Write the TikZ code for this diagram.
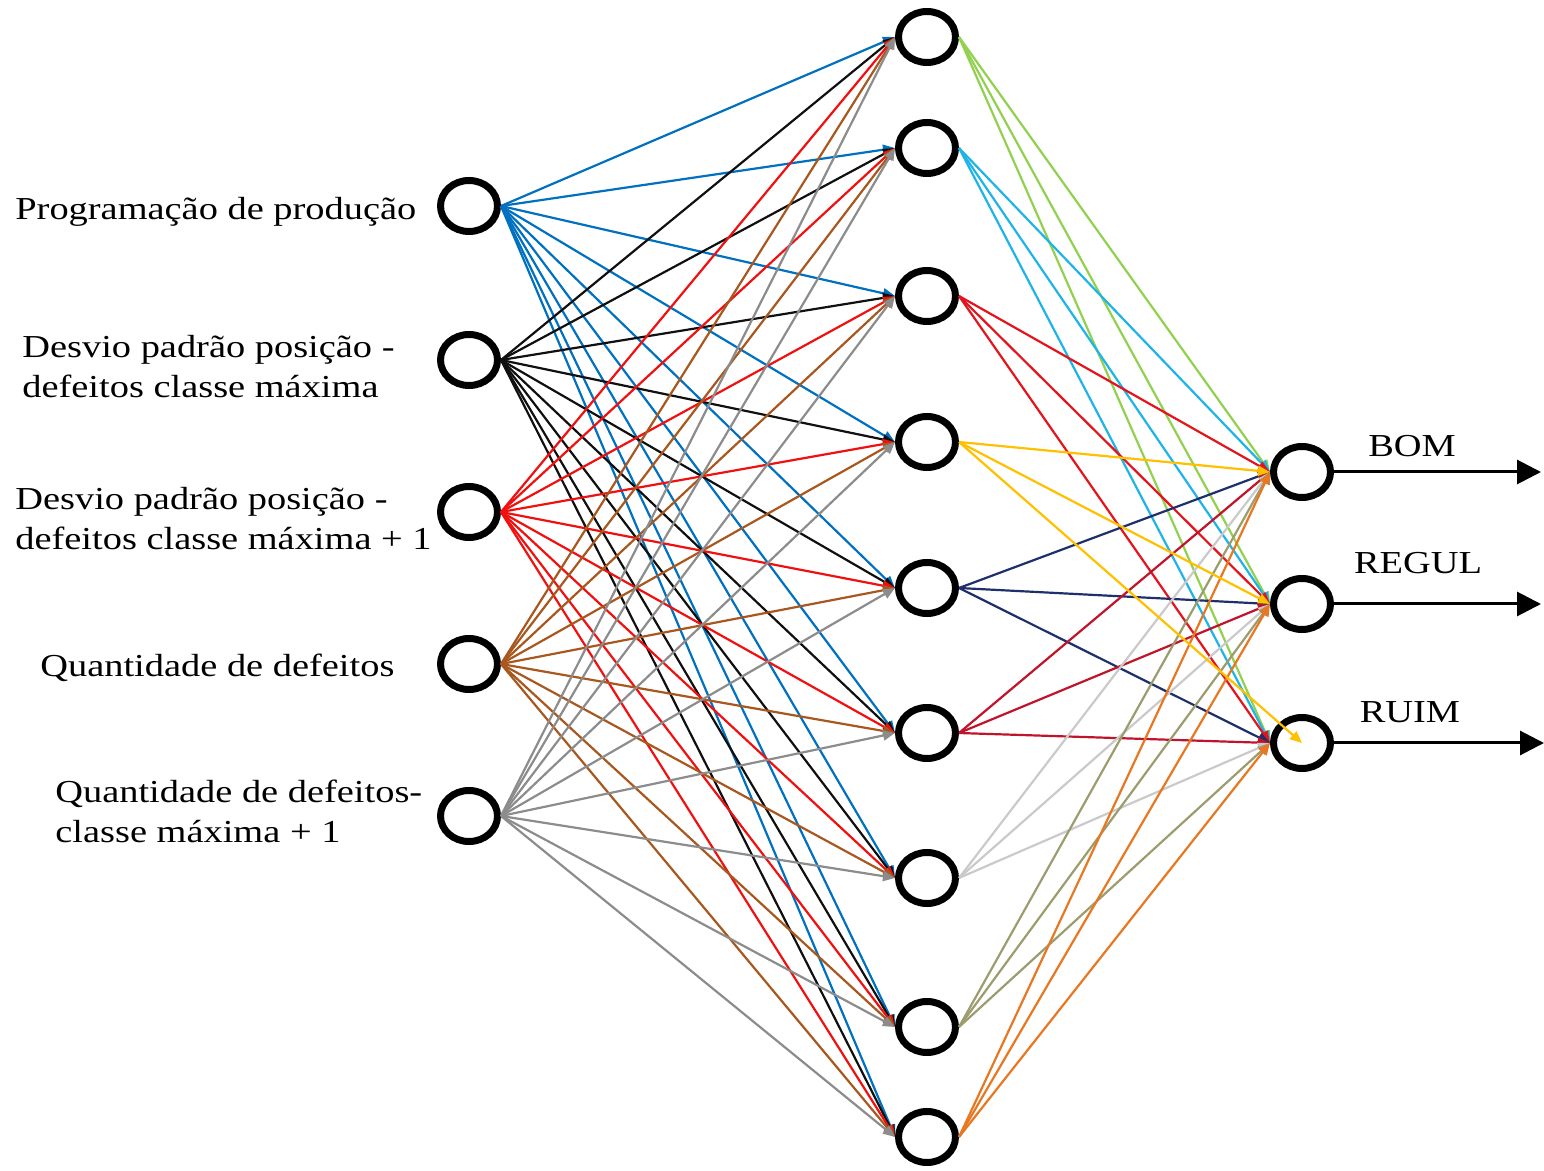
\documentclass[tikz,border=0pt]{standalone}
\usepackage{fontspec}
\setmainfont[FakeStretch=1.2]{Liberation Serif}
\usepackage{tikz}
\usetikzlibrary{arrows.meta,shapes.geometric}
\definecolor{clInA}{HTML}{0070C0}
\definecolor{clInB}{HTML}{101010}
\definecolor{clInC}{HTML}{F01010}
\definecolor{clInD}{HTML}{A8581E}
\definecolor{clInE}{HTML}{8C8C8C}
\definecolor{clHidA}{HTML}{92D050}
\definecolor{clHidB}{HTML}{1EB4E8}
\definecolor{clHidC}{HTML}{E3141C}
\definecolor{clHidD}{HTML}{FFC000}
\definecolor{clHidE}{HTML}{1F2F6B}
\definecolor{clHidF}{HTML}{C0142A}
\definecolor{clHidG}{HTML}{CACACA}
\definecolor{clHidH}{HTML}{9C9C6E}
\definecolor{clHidI}{HTML}{E87722}
\tikzset{
  neuron/.style={ellipse, draw=black, line width=3.5pt, minimum width=28.5pt,
                 minimum height=25.5pt, inner sep=0pt},
  link/.style={-{Triangle[length=6pt,width=5pt]}, line width=1.1pt},
  outarrow/.style={-{Triangle[length=12pt,width=12pt]}, line width=1.5pt, draw=black},
  lbl/.style={anchor=west, align=left, inner sep=0pt,
              font=\fontsize{16}{20}\selectfont},
  outlbl/.style={inner sep=0pt, font=\fontsize{16}{20}\selectfont},
}
\begin{document}
\begin{tikzpicture}[x=0.5pt,y=-0.5pt]
  \useasboundingbox (0,0) rectangle (1544,1171);

  % input layer
  \node[neuron] (i1) at (469,206) {};
  \node[neuron] (i2) at (469,360) {};
  \node[neuron] (i3) at (469,512) {};
  \node[neuron] (i4) at (469,664) {};
  \node[neuron] (i5) at (469,816) {};

  % hidden layer
  \foreach \y [count=\k] in {37,148,296,442,588,733,878,1027,1137}
    \node[neuron] (h\k) at (927,\y) {};

  % output layer
  \node[neuron] (o1) at (1302,472) {};
  \node[neuron] (o2) at (1302,604) {};
  \node[neuron] (o3) at (1302,743) {};

  % input labels
  \node[lbl] (l1) at (15,212) {Programação de produção};
  \node[lbl] (l2) at (22,367) {Desvio padrão posição -\\defeitos classe máxima};
  \node[lbl] (l3) at (15,519) {Desvio padrão posição -\\defeitos classe máxima + 1};
  \node[lbl] (l4) at (40,668) {Quantidade de defeitos};
  \node[lbl] (l5) at (55,811) {Quantidade de defeitos-\\classe máxima + 1};

  % input -> hidden
  \foreach \c [count=\i] in {clInA,clInB,clInC,clInD,clInE}
    \foreach \k in {1,...,9}
      \draw[link, draw=\c] (i\i.east) -- (h\k.west);

  % hidden -> output
  \foreach \k/\c in {1/clHidA,2/clHidB,3/clHidC,5/clHidE,6/clHidF,7/clHidG,8/clHidH,9/clHidI}
    \foreach \j in {1,2,3}
      \draw[link, draw=\c] (h\k.east) -- (o\j.west);
  \draw[link, draw=clHidD] (h4.east) -- (o1.west);
  \draw[link, draw=clHidD] (h4.east) -- (o2.west);
  \draw[link, draw=clHidD] (h4.east) -- (o3.center);

  % outputs
  \coordinate (e1) at (1541,472);
  \coordinate (e2) at (1541,604);
  \coordinate (e3) at (1544,743);
  \draw[outarrow] (o1.east) -- (e1);
  \draw[outarrow] (o2.east) -- (e2);
  \draw[outarrow] (o3.east) -- (e3);
  \node[outlbl] (bom) at (1412,446) {BOM};
  \node[outlbl] (regul) at (1418,563) {REGUL};
  \node[outlbl] (ruim) at (1410,712) {RUIM};
\end{tikzpicture}
\end{document}
